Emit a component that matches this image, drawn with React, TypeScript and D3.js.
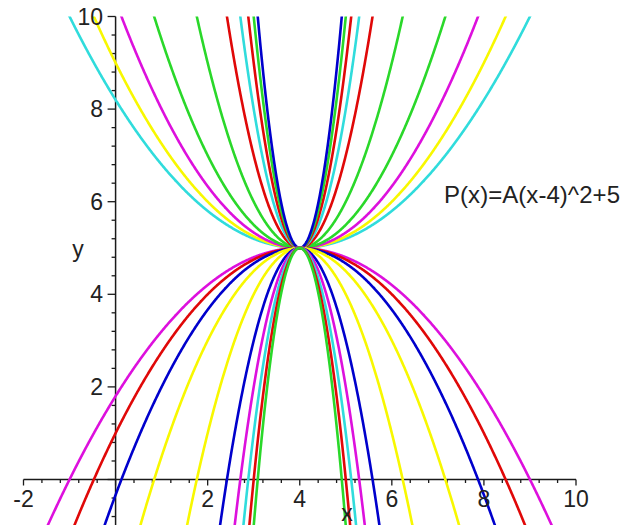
import React from "react";
import * as d3 from "d3";

// P(x) = A(x-4)^2 + 5 for a family of leading coefficients A
const positiveA = [0.2, 0.25, 1 / 3, 0.5, 1, 2, 3, 4, 5, 6];
const positiveColors = ["cyan", "yellow", "magenta", "green", "green", "red", "cyan", "red", "green", "blue"];
const negativeA = [-0.2, -0.25, -1 / 3, -0.5, -1, -2, -3, -4, -5, -6];
const negativeColors = ["magenta", "red", "blue", "yellow", "yellow", "blue", "magenta", "cyan", "red", "green"];

const vertexX = 4;
const vertexY = 5;

const xMajorTicks = [-2, 2, 4, 6, 8, 10];
const yMajorTicks = [2, 4, 6, 8, 10];
const xDomain: [number, number] = [-2, 10];
const yDomain: [number, number] = [-1, 10];
const minorStep = 0.4;

const title = "P(x)=A(x-4)^2+5";

const palette: Record<string, string> = {
  red: "#e00808",
  green: "#2ad82a",
  yellow: "#f8f800",
  blue: "#0000cc",
  magenta: "#dd10dd",
  cyan: "#30dcdc",
};

const W = 622;
const H = 525;

export default function App() {
  const x = d3.scaleLinear().domain(xDomain).range([23.5, 576]);
  const y = d3.scaleLinear().domain(yDomain).range([525.8, 16.5]);

  const samples = d3.range(xDomain[0], xDomain[1] + 1e-9, 0.01);

  const curves = [
    ...positiveA.map((a, i) => ({ a, color: palette[positiveColors[i]] })),
    ...negativeA.map((a, i) => ({ a, color: palette[negativeColors[i]] })),
  ];

  const curveLine = d3
    .line<[number, number]>()
    .x((d) => x(d[0]))
    .y((d) => y(d[1]));

  const pathFor = (a: number) => {
    const pts = samples
      .map((t) => [t, a * (t - vertexX) ** 2 + vertexY] as [number, number])
      .filter(([, v]) => v > yDomain[0] - 2 && v < yDomain[1] + 2);
    return curveLine(pts);
  };

  const xMinor = d3.range(-2, 10 + 1e-9, minorStep).map((v) => Math.round(v * 10) / 10);
  const yMinor = d3.range(-0.8, 10 + 1e-9, minorStep).map((v) => Math.round(v * 10) / 10);
  const isMajor = (v: number) => Math.abs(v / 2 - Math.round(v / 2)) < 1e-6;

  const x0 = x(0);
  const y0 = y(0);
  const font = "'Liberation Sans', Arial, sans-serif";
  const axisColor = "#1a1a1a";

  return (
    <svg
      width={W}
      height={H}
      viewBox={`0 0 ${W} ${H}`}
      style={{ position: "absolute", left: 0, top: 0, background: "#fff" }}
    >
      <defs>
        <clipPath id="plot-area">
          <rect
            x={x(xDomain[0])}
            y={y(yDomain[1])}
            width={x(xDomain[1]) - x(xDomain[0])}
            height={y(yDomain[0]) - y(yDomain[1])}
          />
        </clipPath>
      </defs>

      {/* axes */}
      <line x1={x(-2)} x2={x(10)} y1={y0} y2={y0} stroke={axisColor} strokeWidth={1.5} />
      <line x1={x0} x2={x0} y1={y(10)} y2={H} stroke={axisColor} strokeWidth={1.5} />
      {xMinor.map((v) => (
        <line key={`xt${v}`} x1={x(v)} x2={x(v)} y1={y0} y2={y0 + (isMajor(v) ? 6 : 3.5)} stroke={axisColor} strokeWidth={1.3} />
      ))}
      {yMinor.map((v) => (
        <line key={`yt${v}`} x1={x0 - (isMajor(v) ? 8 : 4)} x2={x0} y1={y(v)} y2={y(v)} stroke={axisColor} strokeWidth={1.3} />
      ))}

      {/* curves */}
      <g clipPath="url(#plot-area)" fill="none" strokeWidth={2.6} strokeLinejoin="round">
        {curves.map((c, i) => (
          <path key={i} d={pathFor(c.a) ?? ""} stroke={c.color} />
        ))}
      </g>

      {/* labels */}
      <g fontFamily={font} fontSize={23} fill="#222">
        {xMajorTicks.map((v) => (
          <text key={`xl${v}`} x={x(v)} y={507} textAnchor="middle">
            {v}
          </text>
        ))}
        {yMajorTicks.map((v) => (
          <text key={`yl${v}`} x={103} y={y(v) + 8} textAnchor="end">
            {v}
          </text>
        ))}
        <text x={78} y={257} textAnchor="middle">y</text>
        <text x={347} y={521} textAnchor="middle">x</text>
        <text x={444} y={203} fontSize={24} textLength={176} lengthAdjust="spacing">{title}</text>
      </g>
    </svg>
  );
}
